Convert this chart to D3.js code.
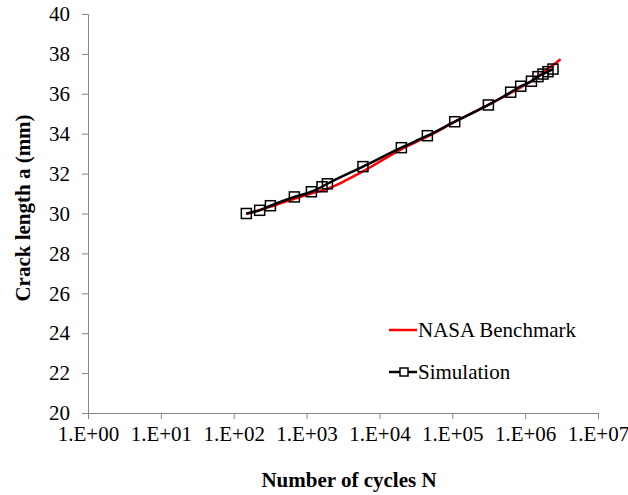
<!DOCTYPE html>
<html>
<head>
<meta charset="utf-8">
<script src="https://cdn.jsdelivr.net/npm/d3@7"></script>
<style>
  html, body { margin: 0; padding: 0; background: #fff; }
  svg { display: block; }
  text { font-family: "Liberation Serif", "Times New Roman", serif; }
</style>
</head>
<body>
<svg id="chart" width="628" height="495"></svg>
<script>
// ---- Data ----
const nasaN = [149, 312, 665, 1213, 2076, 3556, 6280, 20200, 45900, 108000, 316000, 633000, 1190000, 3070000];
const nasaA = [29.97, 30.33, 30.73, 31.03, 31.28, 31.68, 32.16, 33.23, 33.86, 34.59, 35.46, 36.04, 36.62, 37.73];

const simN = [149, 227, 319, 680, 1165, 1629, 1932, 5945, 20000, 45500, 108000, 313000, 633000, 869000, 1220000, 1500000, 1760000, 2060000, 2410000];
const simA = [30.00, 30.16, 30.39, 30.83, 31.09, 31.34, 31.49, 32.35, 33.30, 33.90, 34.60, 35.44, 36.08, 36.38, 36.63, 36.86, 36.99, 37.11, 37.24];

const xTicks = [1e0, 1e1, 1e2, 1e3, 1e4, 1e5, 1e6, 1e7];
const xTickLabels = ["1.E+00", "1.E+01", "1.E+02", "1.E+03", "1.E+04", "1.E+05", "1.E+06", "1.E+07"];
const yTicks = [20, 22, 24, 26, 28, 30, 32, 34, 36, 38, 40];

const seriesNames = ["NASA Benchmark", "Simulation"];
const xTitle = "Number of cycles N";
const yTitle = "Crack length a (mm)";

// ---- Layout ----
const svg = d3.select("#chart");
const plotLeft = 88, plotRight = 598, plotTop = 14, plotBottom = 413;
const axisColor = "#868686";
const fs = 21;

const x = d3.scaleLog().domain([1e0, 1e7]).range([plotLeft, plotRight]);
const y = d3.scaleLinear().domain([20, 40]).range([plotBottom, plotTop]);

// Axes
const xAxis = d3.axisBottom(x).tickValues(xTicks).tickSize(6).tickPadding(7)
  .tickFormat((d, i) => xTickLabels[i]);
const gx = svg.append("g").attr("transform", `translate(0,${plotBottom})`).call(xAxis);
gx.select(".domain").attr("stroke", axisColor).attr("stroke-width", 1);
gx.selectAll(".tick line").attr("stroke", axisColor);
gx.selectAll(".tick text").attr("font-size", fs).attr("fill", "#000")
  .attr("font-family", "'Liberation Serif', serif");

const yAxis = d3.axisLeft(y).tickValues(yTicks).tickSize(6).tickPadding(12)
  .tickFormat(d3.format("d"));
const gy = svg.append("g").attr("transform", `translate(${plotLeft},0)`).call(yAxis);
gy.select(".domain").attr("stroke", axisColor).attr("stroke-width", 1);
gy.selectAll(".tick line").attr("stroke", axisColor);
gy.selectAll(".tick text").attr("font-size", fs).attr("fill", "#000")
  .attr("font-family", "'Liberation Serif', serif");

// Axis titles
svg.append("text")
  .attr("x", 349).attr("y", 487)
  .attr("text-anchor", "middle")
  .attr("font-size", fs).attr("font-weight", "bold")
  .text(xTitle);

svg.append("text")
  .attr("transform", `translate(30,208) rotate(-90)`)
  .attr("text-anchor", "middle")
  .attr("font-size", fs).attr("font-weight", "bold")
  .text(yTitle);

// Lines
const nasaData = nasaN.map((n, i) => ({n, a: nasaA[i]}));
const simData = simN.map((n, i) => ({n, a: simA[i]}));

const line = d3.line().x(d => x(d.n)).y(d => y(d.a)).curve(d3.curveMonotoneX);

svg.append("path").datum(nasaData)
  .attr("d", line).attr("fill", "none")
  .attr("stroke", "#ff0000").attr("stroke-width", 2.5);

svg.append("path").datum(simData)
  .attr("d", line).attr("fill", "none")
  .attr("stroke", "#000").attr("stroke-width", 2.5);

const ms = 10;
svg.append("g").selectAll("rect").data(simData).join("rect")
  .attr("x", d => x(d.n) - ms / 2).attr("y", d => y(d.a) - ms / 2)
  .attr("width", ms).attr("height", ms)
  .attr("fill", "none").attr("stroke", "#000").attr("stroke-width", 1.5);

// Legend
const lg = svg.append("g");
lg.append("line").attr("x1", 389).attr("x2", 417).attr("y1", 330).attr("y2", 330)
  .attr("stroke", "#ff0000").attr("stroke-width", 2.5);
lg.append("text").attr("x", 418).attr("y", 337).attr("font-size", fs).text(seriesNames[0]);

lg.append("line").attr("x1", 389).attr("x2", 417).attr("y1", 372).attr("y2", 372)
  .attr("stroke", "#000").attr("stroke-width", 2.5);
lg.append("rect").attr("x", 404 - 4).attr("y", 372 - 4).attr("width", 8).attr("height", 8)
  .attr("fill", "#fff").attr("stroke", "#000").attr("stroke-width", 1.5);
lg.append("text").attr("x", 418).attr("y", 379).attr("font-size", fs).text(seriesNames[1]);
</script>
</body>
</html>
